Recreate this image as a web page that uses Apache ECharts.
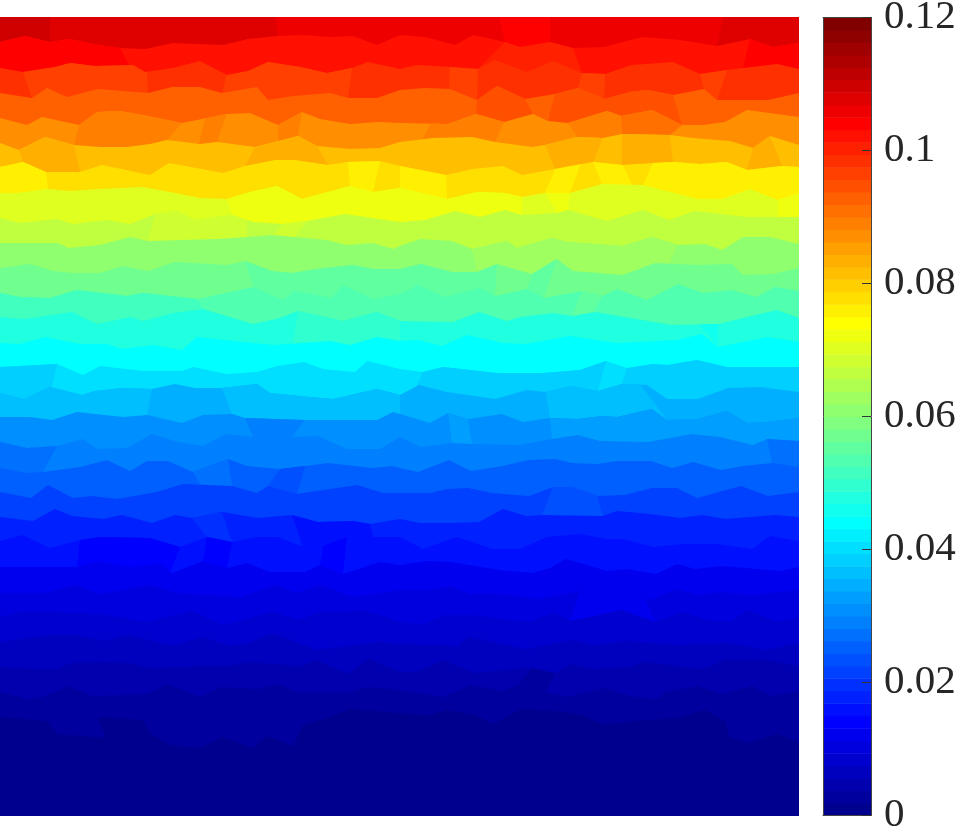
<!DOCTYPE html>
<html><head><meta charset="utf-8">
<style>html,body{margin:0;padding:0;background:#fff}#c{width:956px;height:828px}</style>
<script src="https://cdn.jsdelivr.net/npm/echarts@6/dist/echarts.min.js"></script>
</head><body><div id="c"></div>
<script>
// Colour bar tick labels
const tickValues = [0, 0.02, 0.04, 0.06, 0.08, 0.1, 0.12];
const tickLabels = ['0', '0.02', '0.04', '0.06', '0.08', '0.1', '0.12'];
const scaleMax = 0.12;
const levelCount = 64;

// Boundaries between element rows: x, y flat pairs
const b01=[0,42,25,36,50,42,70,39,93,44,120,48,145,49,173,43,223,45,248,39,277,36,303,35,330,37,353,36,377,45,400,35,425,37,455,45,473,35,505,42,520,47,550,42,573,48,605,47,630,40,643,37,680,40,717,46,750,39,773,47,799,43];
const b02=[0,68,23,72,55,67,70,63,95,66,133,65,145,72,173,68,200,61,227,75,248,71,268,62,300,67,327,73,352,68,368,62,400,69,417,65,450,67,478,69,495,60,527,72,553,61,582,73,605,74,632,65,673,62,700,74,727,70,777,64,799,69];
const b03=[0,93,32,98,47,88,67,97,98,89,148,93,172,87,200,87,222,93,257,87,268,100,293,96,330,93,348,98,377,98,400,90,425,88,450,89,477,100,497,86,525,99,555,94,578,88,604,99,630,92,647,90,673,95,704,89,717,100,768,100,799,93];
const b04=[0,118,27,125,42,117,79,125,97,112,120,111,143,115,182,123,227,114,250,113,278,125,302,112,320,119,350,124,378,122,400,123,448,124,476,114,504,122,533,114,548,121,568,123,607,111,621,116,652,110,682,125,703,125,725,122,747,110,777,114,799,117];
const b05=[0,143,19,150,45,137,74,145,100,147,127,147,150,144,167,140,200,144,217,142,255,147,298,136,317,146,350,149,380,148,400,142,433,138,472,137,495,142,532,147,545,145,577,137,603,138,622,134,670,135,693,138,730,141,753,148,770,136,799,145];
const b06=[0,167,23,162,46,172,80,172,102,165,150,175,169,163,223,173,245,166,275,160,295,160,328,165,348,162,380,161,400,166,446,175,473,169,503,166,522,175,555,169,593,162,622,165,653,163,673,162,700,164,727,162,747,170,782,166,799,167];
const b07=[0,193,17,193,47,189,70,191,100,189,142,187,170,192,200,198,227,199,250,192,277,186,302,199,350,186,373,192,400,188,447,199,477,192,505,193,522,197,545,193,570,193,602,184,643,185,698,199,722,199,750,189,778,200,799,193];
const b08=[0,218,20,223,57,219,73,224,107,220,130,224,155,214,177,211,195,220,232,215,253,222,283,224,307,221,345,214,400,222,425,220,455,211,480,217,505,210,522,215,557,213,568,210,607,221,643,210,669,220,695,211,747,217,778,217,799,217];
const b09=[0,243,58,243,68,248,100,245,130,237,148,241,217,239,247,237,272,235,327,240,347,245,373,243,393,249,400,246,420,239,452,241,472,249,507,241,517,248,552,238,567,242,623,246,652,237,678,245,705,244,722,250,743,237,770,237,799,244];
const b10=[0,268,30,264,53,271,73,273,100,273,123,266,148,271,175,262,227,265,245,261,272,271,292,273,317,269,353,265,373,269,400,269,421,264,452,272,477,272,497,264,532,274,557,259,573,271,623,275,655,263,697,265,732,264,743,275,773,274,799,268];
const b11=[0,293,20,297,50,298,77,290,127,296,143,293,198,299,253,287,283,300,295,291,332,298,343,285,373,299,400,294,418,285,445,297,480,288,495,296,527,289,544,298,582,291,603,296,617,289,647,300,678,284,703,293,732,290,756,297,775,287,799,291];
const b12=[0,317,25,319,72,312,97,324,130,317,143,321,173,313,203,309,253,324,280,318,298,311,343,321,377,312,400,321,453,322,479,312,507,321,520,317,553,313,572,316,595,312,672,325,718,324,777,310,799,318];
const b13=[0,343,20,344,45,337,80,344,107,344,122,349,153,345,182,350,197,337,273,345,330,341,350,345,377,337,400,341,418,340,442,346,467,335,503,343,525,344,570,336,617,343,677,340,702,334,718,347,768,337,799,342];
const b14=[0,367,57,364,83,375,100,366,143,371,182,371,193,367,227,374,257,372,277,366,304,362,323,369,355,372,367,361,400,369,423,372,443,367,497,373,543,373,580,370,606,361,627,368,653,364,668,365,697,360,727,367,799,367];
const b15=[0,393,24,399,50,387,82,395,95,391,122,388,152,389,175,384,195,388,222,388,257,384,270,393,310,397,333,399,377,389,400,395,419,385,447,392,495,399,527,390,545,392,570,386,598,391,622,384,647,385,667,399,698,399,728,388,760,387,799,392];
const b16=[0,417,30,417,52,420,77,412,123,417,147,415,182,423,203,415,232,414,245,418,305,420,377,420,393,412,400,414,430,423,448,413,468,419,502,414,523,422,550,418,577,419,602,416,617,417,652,409,667,420,698,419,727,411,747,423,768,422,799,418];
const b17=[0,442,27,448,57,446,83,439,97,449,127,448,152,434,178,442,203,446,226,434,253,437,292,437,318,436,347,449,380,449,400,437,421,447,452,443,472,444,520,445,552,439,578,435,600,441,648,442,692,434,720,437,753,445,767,439,799,441];
const b18=[0,468,27,473,43,472,80,467,107,460,130,471,147,461,168,461,193,472,228,459,247,466,280,469,305,466,328,463,372,468,393,466,400,468,418,472,449,460,471,471,502,466,529,460,555,459,572,463,597,464,617,461,651,461,672,468,693,462,721,470,743,466,772,463,799,467];
const b19=[0,492,31,498,48,485,73,498,92,496,117,499,157,492,183,484,232,486,257,493,268,486,297,494,357,485,383,493,400,493,430,493,448,489,468,488,492,493,529,496,553,487,572,487,597,496,625,495,652,488,677,488,697,498,741,486,768,496,799,492];
const b20=[0,517,33,521,55,509,72,516,103,519,122,515,152,523,175,515,192,518,222,512,258,518,292,515,318,522,353,521,370,524,400,519,420,523,453,523,479,522,503,509,526,516,542,515,603,516,617,511,650,514,680,518,703,515,725,519,775,515,799,517];
const b21=[0,541,22,535,50,548,80,540,100,537,150,538,180,547,207,537,232,542,257,537,278,537,303,547,323,546,347,537,400,537,423,549,457,537,493,549,520,549,547,537,580,534,607,539,623,539,653,547,683,544,717,544,752,549,770,536,799,541];
const b22=[0,567,43,567,77,567,97,561,130,567,160,563,172,573,203,561,227,568,247,563,270,572,305,572,320,565,343,574,380,562,400,565,427,561,450,562,500,570,532,573,550,568,566,559,607,571,627,569,656,574,677,564,695,569,722,566,780,571,799,567];
const b23=[0,593,43,593,75,585,100,594,150,585,177,593,213,595,240,597,275,585,297,593,320,585,353,597,400,590,430,590,450,586,470,594,500,594,540,599,580,591,613,599,653,599,677,589,700,595,720,592,750,595,799,590];
const b24=[0,617,20,612,50,612,100,614,147,622,192,611,223,625,273,612,298,620,320,612,367,611,400,622,425,624,445,615,472,615,528,622,555,613,570,621,622,610,655,622,683,612,707,620,730,622,748,610,777,622,799,618];
const b25=[0,642,50,635,77,635,103,641,127,635,172,646,202,637,232,646,250,643,272,633,317,650,377,642,400,644,458,646,468,637,525,649,573,640,593,645,627,641,677,645,727,643,768,650,799,643];
const b26=[0,667,33,669,57,669,70,663,103,662,130,663,150,668,200,666,230,666,248,662,300,666,317,660,348,674,368,659,400,672,417,672,443,660,475,673,528,668,555,673,570,664,593,669,630,667,645,662,703,669,725,660,763,660,799,666];
const b27=[0,692,28,699,43,697,68,686,92,696,147,694,167,684,200,697,220,687,257,689,280,684,295,692,350,692,367,687,400,690,443,697,470,685,503,691,518,685,532,668,555,673,546,692,567,697,605,688,633,697,658,699,665,692,698,686,722,694,752,686,770,696,799,691];
const b28=[0,717,47,721,57,734,106,738,98,717,143,720,150,733,170,745,200,748,223,737,252,748,268,736,293,746,303,725,327,718,350,709,400,713,430,715,447,710,475,715,493,724,521,709,555,711,583,715,603,725,633,721,677,718,705,710,725,721,729,737,748,743,777,734,799,742];
const boundaries=[b01,b02,b03,b04,b05,b06,b07,b08,b09,b10,b11,b12,b13,b14,b15,b16,b17,b18,b19,b20,b21,b22,b23,b24,b25,b26,b27,b28];

// Colour level (1..64) of each row, top row first
const rowLevels=[57,55,53,50,47,44,42,38,36,33,31,29,26,24,22,19,17,16,14,12,10,9,7,6,5,4,3,2,1];

// Elements of a row whose level differs: row, level, left edge, right edge
const cells=[
[0,59,null,[50,17,50,42]],[0,58,[50,17,50,42],[275,17,278,36]],[0,56,[499,17,505,42],[550,17,550,42]],[0,58,[723,17,717,46],null],
[1,56,null,[120,48,129,65]],[1,54,[505,42,478,69],[573,48,582,73]],[1,56,[750,39,743,68],null],
[2,52,[23,72,32,98],[147,72,148,93]],[2,52,[227,75,222,93],[352,68,348,98]],[2,52,[450,67,449,89],[478,69,477,100]],[2,52,[582,73,578,88],[605,74,604,99]],[2,52,[700,74,704,89],[727,70,717,100]],
[3,51,[477,100,476,114],[525,99,533,114]],[3,51,[555,94,548,121],[673,95,682,125]],
[4,48,[79,125,74,145],[182,123,167,140]],[4,48,[205,119,199,144],[227,114,217,142]],[4,48,[278,125,278,142],[302,112,298,136]],[4,48,[430,124,423,138],[504,122,495,142]],[4,48,[568,123,577,137],[621,116,622,134]],[4,49,[621,116,622,134],[682,125,670,135]],
[5,45,[19,150,23,162],[74,145,80,172]],[5,45,[255,147,245,166],[317,146,328,165]],[5,45,[545,145,555,169],[603,138,593,162]],[5,45,[622,134,622,165],[670,135,673,162]],[5,45,[753,148,747,170],[770,136,782,166]],
[6,41,null,[46,172,48,189]],[6,41,[348,162,350,186],[380,161,373,192]],[6,41,[400,167,400,188],[446,175,447,199]],[6,41,[555,169,545,193],[580,166,570,193]],[6,41,[593,162,602,184],[623,165,632,185]],[6,41,[653,163,643,185],null],
[7,39,[227,199,232,215],[522,197,522,215]],[7,39,[545,193,557,213],[570,193,568,210]],[7,39,[778,200,778,217],null],
[8,37,[155,214,148,241],[247,222,247,237]],[8,37,[283,224,273,235],[307,221,295,237]],
[9,34,[472,249,477,272],[678,245,670,262]],
[10,30,[245,261,253,287],[497,264,495,296]],[10,30,[532,274,527,289],[557,259,544,298]],
[11,28,null,[197,299,203,309]],[11,30,[582,291,572,316],[603,296,593,312]],
[12,27,[298,311,293,343],[400,320,400,341]],[12,25,[700,325,718,347],[718,324,718,347]],
[14,21,null,[57,364,52,387]],[14,21,[423,372,417,385],[606,361,598,391]],[14,21,[627,368,622,384],null],
[15,20,null,[152,389,147,415]],[15,20,[222,388,232,414],[400,393,400,413]],[15,20,[547,400,550,418],[652,400,667,420]],
[16,16,[245,418,253,437],[305,420,292,437]],[16,18,[448,413,452,443],[468,419,472,444]],[16,18,[550,418,552,439],null],
[17,15,null,[57,446,43,472]],[17,15,[767,439,772,463],null],
[18,15,[193,472,200,484],[228,459,232,486]],[18,13,[280,469,268,486],[305,466,297,494]],
[19,13,[553,487,542,515],[597,496,603,516]],
[20,11,[192,518,207,537],[222,512,232,542]],[20,9,[292,515,303,547],[370,524,373,537]],
[21,8,[80,540,77,567],[180,547,170,573]],[21,8,[207,537,203,561],[232,542,227,568]],[21,8,[323,546,320,565],[347,537,343,574]],
[23,7,[580,591,570,621],[645,599,655,622]]
];

const X0=0, X1=799, Y0=17, Y1=816;

// MATLAB jet colour map with 64 levels
function jet(level){
  const k=16;
  const u=(j)=>{
    const p=j-8;
    if(p<=0||p>=3*k) return 0;
    if(p<k) return p/k;
    if(p<=2*k) return 1;
    return (3*k-p)/k;
  };
  return 'rgb('+[u(level-k),u(level),u(level+k)].map(v=>Math.round(v*255)).join(',')+')';
}

function pts(flat){const o=[];for(let i=0;i<flat.length;i+=2)o.push([flat[i],flat[i+1]]);return o;}
function rowPoly(r){
  const top=r===0?[[X0,Y0],[X1,Y0]]:pts(boundaries[r-1]);
  return top.concat([[X1,Y1],[X0,Y1]]);
}
function clip(poly,e,keepNeg){
  const [x1,y1,x2,y2]=e, dx=x2-x1, dy=y2-y1;
  const side=p=>{const c=dx*(p[1]-y1)-dy*(p[0]-x1);return keepNeg?-c:c;};
  const out=[];
  for(let i=0;i<poly.length;i++){
    const a=poly[i],b=poly[(i+1)%poly.length],sa=side(a),sb=side(b);
    if(sa>=0)out.push(a);
    if((sa>=0)!==(sb>=0)){const t=sa/(sa-sb);out.push([a[0]+t*(b[0]-a[0]),a[1]+t*(b[1]-a[1])]);}
  }
  return out;
}
const shapes=[];
rowLevels.forEach((lv,r)=>{
  const base=rowPoly(r);
  shapes.push({level:lv,poly:base});
  cells.filter(c=>c[0]===r).forEach(c=>{
    let p=base;
    if(c[2])p=clip(p,c[2],true);
    if(c[3])p=clip(p,c[3],false);
    if(p.length>2)shapes.push({level:c[1],poly:p});
  });
});
const barLevels=[];
for(let i=1;i<=levelCount;i++)barLevels.push(i);

const axisLineStyle={show:true,onZero:false,lineStyle:{color:'#454545',width:1}};
const chart=echarts.init(document.getElementById('c'),null,{renderer:'canvas'});
chart.setOption({
  animation:false,backgroundColor:'#fff',
  grid:[
    {left:0,top:Y0,width:X1-X0,height:Y1-Y0,outerBoundsMode:'none'},
    {left:823,top:17.5,width:48,height:798,outerBoundsMode:'none'}
  ],
  xAxis:[
    {gridIndex:0,type:'value',min:X0,max:X1,show:false},
    {gridIndex:1,type:'value',min:0,max:1,position:'bottom',z:5,axisLine:axisLineStyle,axisTick:{show:false},axisLabel:{show:false},splitLine:{show:false}},
    {gridIndex:1,type:'value',min:0,max:1,position:'top',z:5,axisLine:axisLineStyle,axisTick:{show:false},axisLabel:{show:false},splitLine:{show:false}}
  ],
  yAxis:[
    {gridIndex:0,type:'value',min:Y0,max:Y1,inverse:true,show:false},
    {gridIndex:1,type:'value',min:0,max:scaleMax,interval:0.02,position:'right',z:5,
      axisLine:axisLineStyle,
      axisTick:{show:true,inside:true,length:9,lineStyle:{color:'#333',width:1}},
      splitLine:{show:false},
      axisLabel:{show:true,margin:13,fontFamily:'"Liberation Serif",serif',fontSize:41,color:'#262626',showMinLabel:true,showMaxLabel:true,hideOverlap:false,
        formatter:v=>tickLabels[tickValues.findIndex(t=>Math.abs(t-v)<1e-6)]}},
    {gridIndex:1,type:'value',min:0,max:scaleMax,position:'left',z:5,axisLine:axisLineStyle,axisTick:{show:false},axisLabel:{show:false},splitLine:{show:false}}
  ],
  series:[
    {type:'custom',xAxisIndex:0,yAxisIndex:0,silent:true,clip:true,
      data:shapes.map((s,i)=>[i]),
      renderItem:(p,api)=>{const s=shapes[p.dataIndex];
        return {type:'polygon',shape:{points:s.poly.map(q=>api.coord(q))},style:{fill:jet(s.level)}};}},
    {type:'custom',xAxisIndex:1,yAxisIndex:1,silent:true,clip:true,
      data:barLevels.map(l=>[l]),
      renderItem:(p,api)=>{const l=barLevels[p.dataIndex];
        const a=api.coord([0,(l-1)/levelCount*scaleMax]),b=api.coord([1,l/levelCount*scaleMax]);
        return {type:'rect',shape:{x:a[0],y:b[1],width:b[0]-a[0],height:a[1]-b[1]+0.5},style:{fill:jet(l)}};}}
  ]
});
</script></body></html>
